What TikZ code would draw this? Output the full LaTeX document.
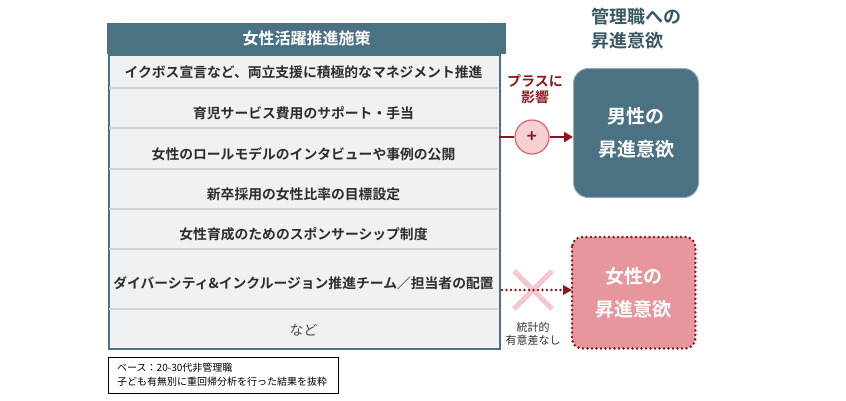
\documentclass[tikz,border=0pt]{standalone}
\usepackage{fontspec}
\setmainfont{Noto Sans CJK JP}[BoldFont={Noto Sans CJK JP Bold}]
\usetikzlibrary{arrows.meta,calc}
\definecolor{mteal}{RGB}{74,114,130}
\definecolor{tealdark}{RGB}{58,88,100}
\definecolor{rowbg}{RGB}{240,241,242}
\definecolor{sep}{RGB}{206,212,216}
\definecolor{txt}{RGB}{45,45,45}
\definecolor{dred}{RGB}{140,22,30}
\definecolor{pinkfill}{RGB}{232,150,158}
\definecolor{pinklight}{RGB}{247,208,211}
\definecolor{pinkedge}{RGB}{222,96,108}
\definecolor{xpink}{RGB}{244,200,204}
\tikzset{
  rowtext/.style={font=\bfseries\fontsize{13.8}{16}\selectfont, text=txt, anchor=center, inner sep=0pt},
  sepline/.style={draw=sep, line width=1.5pt},
  bigbox/.style={rounded corners=15pt, minimum width=125pt, minimum height=129pt, inner sep=0pt},
  boxtext/.style={font=\bfseries\fontsize{19}{21}\selectfont, text=white, align=center},
  reddots/.style={draw=dred, line width=2.8pt, line cap=round, dash pattern=on 0pt off 4.5pt},
}
\begin{document}
\begin{tikzpicture}[x=1pt,y=-1pt]
\useasboundingbox (0,0) rectangle (846,400);
% body
\node[draw=mteal, line width=2pt, fill=rowbg, minimum width=391pt, minimum height=294pt, inner sep=0pt, anchor=north west] (body) at (108,54) {};
\foreach \yy in {88,128,169,209,249,309} \draw[sepline] (109,\yy) -- (498,\yy);
% header
\node[fill=mteal, minimum width=399pt, minimum height=31pt, inner sep=0pt, anchor=north west, text=white, font=\bfseries\fontsize{16}{18}\selectfont] (head) at (107,23) {女性活躍推進施策};
% rows
\node[rowtext] (r1) at (303.5,72) {イクボス宣言など、両立支援に積極的なマネジメント推進};
\node[rowtext] (r2) at (303.5,113) {育児サービス費用のサポート・手当};
\node[rowtext] (r3) at (303.5,154) {女性のロールモデルのインタビューや事例の公開};
\node[rowtext] (r4) at (303.5,194) {新卒採用の女性比率の目標設定};
\node[rowtext] (r5) at (303.5,234) {女性育成のためのスポンサーシップ制度};
\node[rowtext] (r6) at (303.5,283) {ダイバーシティ\&インクルージョン推進チーム／担当者の配置};
\node[rowtext, font=\fontsize{13.8}{16}\selectfont, text=txt!85] (r7) at (303.5,330) {など};
% title
\node[anchor=north west, inner sep=0pt, text=tealdark, font=\bfseries\fontsize{18}{24}\selectfont, align=left] (title) at (591,8) {管理職への\\昇進意欲};
% male box
\node[bigbox, fill=mteal, draw=mteal!60!white, line width=1pt, anchor=north west] (male) at (573,68) {};
\node[boxtext] (mt) at (male.center) {男性の\\[12pt]昇進意欲};
% plus
\node[text=dred, font=\bfseries\fontsize{14}{16}\selectfont, align=center] (plabel) at (535,89) {プラスに\\影響};
\node[circle, fill=pinklight, draw=pinkedge, line width=1.2pt, minimum size=34pt, inner sep=0pt, text=dred, font=\bfseries\fontsize{17}{17}\selectfont] (plus) at (532,137) {+};
\coordinate (a1) at (499,137);
\draw[dred, line width=2.5pt] (a1) -- (plus.west);
\draw[dred, line width=2.5pt, -{Triangle[length=9pt,width=10pt]}] (plus.east) -- (plus.east -| male.west);
% female box
\node[rounded corners=10pt, fill=pinkfill, minimum width=123pt, minimum height=111pt, inner sep=0pt, anchor=north west] (female) at (572,237) {};
\draw[reddots, rounded corners=10pt] (female.north west) rectangle (female.south east);
\node[boxtext] (ft) at (female.center) {女性の\\[12pt]昇進意欲};
% X and dotted arrow
\coordinate (xc) at (533,290);
\draw[xpink, line width=5pt] ($(xc)+(-19,-19)$) -- ($(xc)+(19,19)$);
\draw[xpink, line width=5pt] ($(xc)+(-19,19)$) -- ($(xc)+(19,-19)$);
\coordinate (a2) at (502,290);
\coordinate (a2e) at (562,290);
\draw[reddots] (a2) -- (a2e);
\fill[dred] (572,290) -- (563,285) -- (563,295) -- cycle;
\node[font=\fontsize{11}{13.5}\selectfont, text=txt, align=center] (nsig) at (533,334) {統計的\\有意差なし};
% note
\node[draw=black, line width=0.8pt, minimum width=230pt, minimum height=36pt, anchor=north west, inner sep=0pt] (note) at (108,357) {};
\node[anchor=west, font=\fontsize{10}{14}\selectfont, align=left, inner sep=0pt] (nt) at (117,375) {ベース：20-30代非管理職\\子ども有無別に重回帰分析を行った結果を抜粋};
\end{tikzpicture}
\end{document}
